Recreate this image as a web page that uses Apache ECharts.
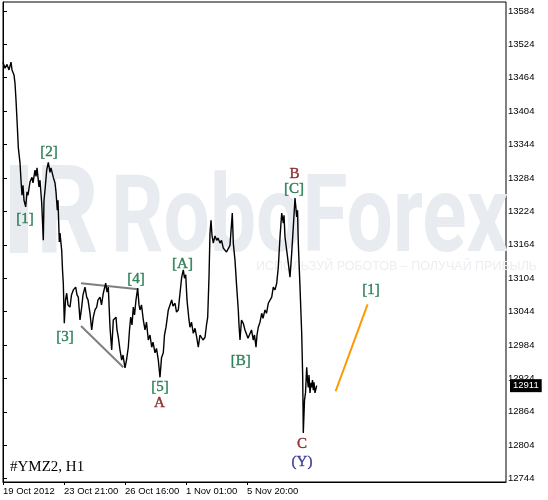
<!DOCTYPE html>
<html><head><meta charset="utf-8">
<script src="https://cdn.jsdelivr.net/npm/echarts@6/dist/echarts.min.js"></script>
<style>html,body{margin:0;padding:0;background:#fff}#c{width:548px;height:500px}</style>
</head><body><div id="c"></div>
<script>
// hourly bar index (from chart start) and price
const barIdx = [0,2,4,6,8,9,11,12,13,14.5,15.3,17,18,19,20,21,22.7,24,25,27,29,30,32,33,34,36,37,38.7,40.3,41,42,43.7,45.3,47,48,50.3,52,53,54.3,55,56.3,57,58.7,59.5,60.3,61.3,62.5,63.7,65,67,68.5,70.3,72.7,74,75.3,77,78.7,80,82,83.7,85,87,88.7,90.3,92,93.7,95,97,98.5,100.3,102.7,104,105.3,107,108.7,110.3,113,114,115.3,117,118.7,120,122,123.5,125.3,126.5,127.7,129,130.3,131.5,133,134.7,136,137,138.5,140.3,142,143.5,145.3,147,148.7,150,152,153.5,155.3,157,158.5,160.3,161.5,163,164,165.3,167,168.7,170,172,173.5,175.3,177,178.7,180.3,181.5,182.7,184,184.7,186,187,188.5,190.3,192,193.7,195.3,197,198.7,200,202,203.5,204.7,206,207,208,209,210.3,212,213.7,215,217,218.5,220.3,222,223.5,225.3,227,227.7,229.3,230.3,232,233.7,235.3,236,237,238.5,240.3,242,243.7,245,247,248.5,250.3,251.5,253,254,255.3,257,258.7,260,262,263.5,265.3,267,268.7,270.3,272,273.7,275.3,277,278.7,280.3,281,282,283.7,285.3,287,288.7,290.3,291,292,293.7,294.5,295.3,297,298.7,299.7,300.3,301.5,302.5,303.7,304.5,305.3,306,307,308,308.7,309.5,310.3,311,312,313.7];
const prices = [13492,13481,13488,13478,13492,13478,13469,13454,13424,13370,13339,13311,13280,13253,13271,13244,13232,13259,13253,13277,13285,13275,13298,13287,13302,13268,13280,13239,13172,13244,13262,13298,13312,13294,13302,13285,13275,13259,13226,13244,13169,13185,13154,13119,13095,13023,13065,13077,13056,13052,13074,13083,13088,13074,13070,13029,13052,13074,13088,13070,13065,13041,13011,13034,13047,13052,13065,13070,13056,13077,13095,13079,13088,13016,12975,13029,13034,13011,12998,12975,12957,12966,12943,12957,12980,13011,13034,13020,13052,13038,13065,13086,13056,13047,13056,13029,13011,13025,12993,13002,12980,12989,12970,12978,12957,12926,12961,12970,13002,13016,13029,13047,13056,13065,13054,13059,13043,13047,13077,13106,13119,13104,13110,13065,13052,13029,13016,13025,13005,13014,12998,12980,13002,13005,12993,12998,13020,13034,13106,13185,13208,13181,13167,13180,13172,13176,13167,13172,13158,13160,13151,13149,13163,13160,13221,13167,13136,13088,13047,13020,12993,13029,13023,13011,13014,12996,12998,13011,12993,13002,12980,13002,13016,13025,13041,13032,13047,13041,13059,13059,13070,13088,13083,13095,13124,13178,13221,13203,13217,13178,13154,13131,13106,13149,13196,13217,13248,13214,13226,13167,13088,13005,12926,12826,12885,12898,12944,12921,12908,12930,12898,12916,12908,12921,12903,12917,12898,12911];
const lastPrice = 12911;
const yTicks = [12744,12804,12864,12924,12984,13044,13104,13164,13224,13284,13344,13404,13464,13524,13584];
const xTickBars = [0,61,122,183,244];
const xTickLabels = ['19 Oct 2012','23 Oct 21:00','26 Oct 16:00','1 Nov 01:00','5 Nov 20:00'];
// wave labels: text, bar, price, kind
const waveText  = ['[1]','[2]','[3]','[4]','[5]','A','[A]','[B]','B','[C]','[1]','C','(Y)'];
const waveBar   = [22,46,62,133,157,156.5,179.5,237.7,291.5,291,368,299,299];
const wavePrice = [13210,13331,12998,13102,12908,12880,13129,12955,13291,13264,13083,12806,12774];
const waveKind  = ['g','g','g','g','g','r','g','g','r','g','g','r','b'];
// triangle lines and forecast
const triUpper = [[78,13095],[135.3,13084]];
const triLower = [[78,13018],[120.3,12944]];
const forecast = [[332.6,12901],[364.6,13057]];

const kindColor = {g:'#0a6a3c', r:'#7a0505', b:'#1a1a85'};
const axisFont = "'Liberation Sans',Arial,sans-serif";
const serif = "'Liberation Serif','Times New Roman',serif";

const chart = echarts.init(document.getElementById('c'), null, {renderer:'canvas'});
chart.setOption({
  animation:false,
  backgroundColor:'#fff',
  grid:{left:3,right:42,top:2,bottom:18,show:true,borderColor:'#000',borderWidth:1,backgroundColor:'transparent'},
  graphic:[
    {type:'rect',z:0,shape:{x:10,y:165,width:18,height:88},style:{fill:'#e8ecf0'}},
    {type:'text',z:0,x:36,y:160,scaleX:0.8,style:{text:'R',fontFamily:'Roboto, sans-serif',fontWeight:'bold',fontSize:122,fill:'#e8ecf0',verticalAlign:'top',align:'left'}},
    {type:'text',z:0,x:111,y:170,scaleX:0.76,style:{text:'RoboForex',fontFamily:'Roboto, sans-serif',fontWeight:'bold',fontSize:108,fill:'#e8ecf0',verticalAlign:'top',align:'left'}},
    {type:'text',z:0,x:256,y:267,style:{text:'ИСПОЛЬЗУЙ РОБОТОВ – ПОЛУЧАЙ ПРИБЫЛЬ',fontFamily:"'Liberation Sans',sans-serif",fontSize:12.5,fill:'#eceef2',verticalAlign:'middle',align:'left'}},
    {type:'text',z:10,x:10,y:467,style:{text:'#YMZ2, H1',fontFamily:serif,fontSize:15,fill:'#000',verticalAlign:'middle',align:'left'}}
  ],
  xAxis:{type:'value',min:0,max:503,
    axisLine:{show:true,lineStyle:{color:'#000'}},
    splitLine:{show:false},
    axisTick:{show:true,length:3,customValues:xTickBars,lineStyle:{color:'#000'}},
    axisLabel:{customValues:xTickBars,align:'left',margin:4,color:'#000',fontFamily:axisFont,fontSize:9.5,
      formatter:function(v){const i=xTickBars.indexOf(v);return i>=0?xTickLabels[i]:'';}}
  },
  yAxis:{type:'value',position:'right',min:12738,max:13600,
    axisLine:{show:true,lineStyle:{color:'#000'}},
    splitLine:{show:false},
    axisTick:{show:true,length:4,customValues:yTicks,lineStyle:{color:'#000'}},
    axisLabel:{customValues:yTicks,margin:2,color:'#000',fontFamily:axisFont,fontSize:9.5,formatter:function(v){return String(v);}}
  },
  series:[
    {type:'line',z:3,data:barIdx.map((b,i)=>[b,prices[i]]),symbol:'none',
      lineStyle:{color:'#000',width:1.4},
      markLine:{silent:true,symbol:'none',lineStyle:{color:'rgba(0,0,0,0)',width:0},
        label:{show:true,position:'end',distance:4,formatter:String(lastPrice),color:'#fff',backgroundColor:'#000',padding:[2,3,1,3],fontFamily:axisFont,fontSize:9.5},
        data:[{yAxis:lastPrice}]}
    },
    {type:'line',z:2,data:triUpper,symbol:'none',lineStyle:{color:'#7f7f7f',width:2}},
    {type:'line',z:2,data:triLower,symbol:'none',lineStyle:{color:'#7f7f7f',width:2}},
    {type:'line',z:2,data:forecast,symbol:'none',lineStyle:{color:'#ff9900',width:2}},
    {type:'scatter',z:5,symbolSize:2,itemStyle:{color:'rgba(0,0,0,0)'},
      data:waveText.map((t,i)=>({name:t,value:[waveBar[i],wavePrice[i]],
        label:{show:true,position:'inside',formatter:t,color:kindColor[waveKind[i]],
          textBorderColor:kindColor[waveKind[i]],textBorderWidth:0.4,fontFamily:serif,fontSize:15}}))}
  ]
});
</script></body></html>
